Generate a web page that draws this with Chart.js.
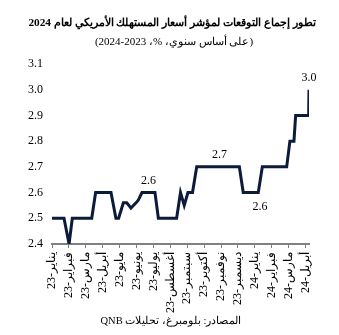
<!DOCTYPE html>
<html>
<head>
<meta charset="utf-8">
<script src="https://cdn.jsdelivr.net/npm/chart.js@4"></script>
<style>
  html, body { margin: 0; padding: 0; background: #fff; }
  #wrap { width: 339px; height: 335px; }
</style>
</head>
<body>
<div id="wrap"><canvas id="myChart" width="339" height="335"></canvas></div>
<script>
// month tick labels (Jan 23 .. Apr 24)
var monthLabels = ['23-يناير', '23-فبراير', '23-مارس', '23-أبريل', '23-مايو', '23-يونيو', '23-يوليو', '23-أغسطس',
                   '23-سبتمبر', '23-أكتوبر', '23-نوفمبر', '23-ديسمبر', '24-يناير', '24-فبراير', '24-مارس', '24-أبريل'];

// consensus readings, x in months since Jan 23
var monthPos = [0, 0.71, 1.01, 1.20, 2.35, 2.58, 3.49, 3.78, 3.94, 4.22, 4.42, 4.67, 4.97, 5.10, 5.32, 6.09, 6.29,
                7.37, 7.60, 7.82, 8.04, 8.31, 8.56, 11.08, 11.31, 12.20, 12.44, 13.88, 14.07, 14.31, 14.41, 15.18, 15.20];
var cpiValues = [2.5, 2.5, 2.4, 2.5, 2.5, 2.6, 2.6, 2.5, 2.5, 2.56, 2.56, 2.54, 2.56, 2.57, 2.6, 2.6, 2.5,
                 2.5, 2.6, 2.55, 2.6, 2.6, 2.7, 2.7, 2.6, 2.6, 2.7, 2.7, 2.8, 2.8, 2.9, 2.9, 3.0];

// value callouts
var calloutPos = [5.7, 9.9, 12.3, 15.2];
var calloutVals = [2.6, 2.7, 2.6, 3.0];
var calloutBelow = [false, false, true, false];

var titleText = 'تطور إجماع التوقعات لمؤشر أسعار المستهلك الأمريكي لعام 2024';
var subtitleText = '(على أساس سنوي، %، 2023-2024)';
var sourceText = 'المصادر: بلومبرغ، تحليلات QNB';

var serif = '"Liberation Serif", "Times New Roman", serif';

var points = monthPos.map(function (m, i) { return { x: m, y: cpiValues[i] }; });

// draw a line of text squeezed/stretched to roughly the reference width
function fitText(c, text, weight, size, width, x, y) {
    c.font = weight + size + 'px ' + serif;
    var w = c.measureText(text).width;
    var s = Math.min(size * 1.3, size * width / w);
    c.font = weight + s.toFixed(1) + 'px ' + serif;
    c.fillText(text, x, y);
}

var textPlugin = {
    id: 'texts',
    afterDatasetsDraw: function (chart) {
        var c = chart.ctx;
        var xs = chart.scales.x, ys = chart.scales.y;
        c.save();
        c.fillStyle = '#000';
        c.textAlign = 'center';
        c.textBaseline = 'middle';
        c.font = '12px ' + serif;
        for (var i = 0; i < calloutPos.length; i++) {
            var px = xs.getPixelForValue(calloutPos[i]);
            var py = ys.getPixelForValue(calloutVals[i]) + (calloutBelow[i] ? 14 : -12);
            c.fillText(calloutVals[i].toFixed(1), px, py);
        }
        c.direction = 'rtl';
        fitText(c, titleText, 'bold ', 14, 300, 172, 23);
        fitText(c, subtitleText, '', 13, 158, 174, 42);
        fitText(c, sourceText, '', 12, 135, 171, 321);
        c.restore();
    }
};

var ctx = document.getElementById('myChart').getContext('2d');

var myChart = new Chart(ctx, {
    type: 'line',
    data: {
        datasets: [{
            data: points,
            borderColor: '#0c1b3a',
            borderWidth: 3,
            pointRadius: 0,
            tension: 0,
            fill: false
        }]
    },
    options: {
        responsive: false,
        animation: false,
        layout: { padding: { top: 64, left: 0, right: 30, bottom: 0 } },
        plugins: {
            legend: { display: false },
            tooltip: { enabled: false }
        },
        scales: {
            x: {
                type: 'linear',
                min: 0,
                max: 15.2,
                afterFit: function (s) { s.height = 91; },
                grid: { drawOnChartArea: false, drawTicks: true, tickLength: 4, color: '#808080', lineWidth: 1 },
                border: { display: true, color: '#808080', width: 2 },
                ticks: {
                    stepSize: 1,
                    includeBounds: false,
                    autoSkip: false,
                    minRotation: 90,
                    maxRotation: 90,
                    padding: 4,
                    color: '#000',
                    font: { family: serif, size: 12 },
                    callback: function (v) { return monthLabels[v]; }
                }
            },
            y: {
                min: 2.4,
                max: 3.1,
                afterFit: function (s) { s.width = 52; },
                grid: { display: false, drawTicks: false },
                border: { display: false },
                ticks: {
                    stepSize: 0.1,
                    padding: 9,
                    color: '#000',
                    font: { family: serif, size: 12 },
                    callback: function (v) { return v.toFixed(1); }
                }
            }
        }
    },
    plugins: [textPlugin]
});
</script>
</body>
</html>
